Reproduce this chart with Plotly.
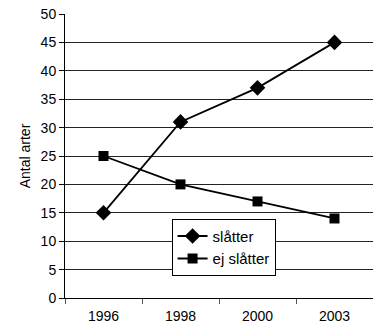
import plotly.graph_objects as go

years = ["1996", "1998", "2000", "2003"]
slatter = [15, 31, 37, 45]
ej_slatter = [25, 20, 17, 14]
y_ticks = [0, 5, 10, 15, 20, 25, 30, 35, 40, 45, 50]

fig = go.Figure()
fig.add_trace(go.Scatter(x=years, y=slatter, name="slåtter", mode="lines+markers",
                         line=dict(color="black", width=1.8),
                         marker=dict(symbol="diamond", size=12, color="black")))
fig.add_trace(go.Scatter(x=years, y=ej_slatter, name="ej slåtter", mode="lines+markers",
                         line=dict(color="black", width=1.8),
                         marker=dict(symbol="square", size=10, color="black")))

fig.update_layout(
    width=373, height=331,
    margin=dict(l=65, r=0, t=14, b=33),
    paper_bgcolor="white", plot_bgcolor="white",
    font=dict(family="Liberation Sans, Arial", size=14, color="black"),
    showlegend=True,
    legend=dict(x=0.346, y=0.279, xanchor="left", yanchor="top",
                bgcolor="white", bordercolor="black", borderwidth=1,
                font=dict(size=15), tracegroupgap=0),
    xaxis=dict(type="category", range=[-0.5, 3.5], showgrid=False, showline=True,
               linecolor="black", linewidth=1,
               ticks="outside", tickson="boundaries", ticklen=5, tickcolor="#555",
               tickfont=dict(size=14), ticklabelstandoff=5, zeroline=False),
    yaxis=dict(range=[0, 50], tickvals=y_ticks, showgrid=True, gridcolor="#222", gridwidth=1,
               showline=True, linecolor="black", linewidth=1, ticks="outside", ticklen=5,
               tickcolor="black", tickfont=dict(size=14), zeroline=False,
               title=dict(text="Antal arter", font=dict(size=14), standoff=6)),
)

fig.write_html("out.html")
